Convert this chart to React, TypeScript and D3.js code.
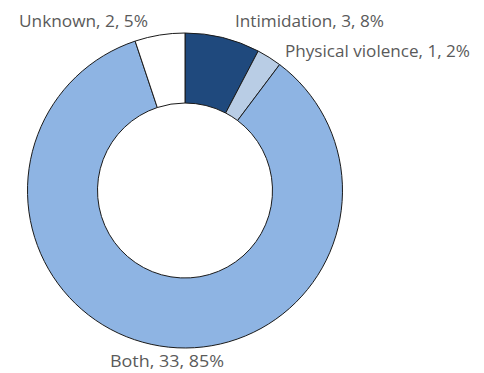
import React from "react";
import * as d3 from "d3";

const categories = ["Intimidation", "Physical violence", "Both", "Unknown"];
const values = [3, 1, 33, 2];
const percentLabels = ["8%", "2%", "85%", "5%"];
const colors = ["#1F497D", "#B9CDE5", "#8EB4E3", "#FFFFFF"];

// label anchor positions (layout only)
const labelLayout = [
  { x: 235, y: 27, w: 149 },
  { x: 285, y: 57, w: 185 },
  { x: 110, y: 367, w: 114 },
  { x: 19, y: 27, w: 129 },
];

export default function App() {
  const width = 484;
  const height = 373;
  const cx = 185;
  const cy = 190.5;
  const R = 157.5;
  const r = 87.5;

  const pie = d3.pie<number>().sort(null).value((d) => d).startAngle(0).endAngle(2 * Math.PI);
  const arcs = pie(values);
  const arcGen = d3.arc<d3.PieArcDatum<number>>().innerRadius(r).outerRadius(R);

  return (
    <svg
      width={width}
      height={height}
      style={{ position: "absolute", left: 0, top: 0, background: "#fff" }}
    >
      <g transform={`translate(${cx},${cy})`}>
        {arcs.map((a, i) => (
          <path
            key={categories[i]}
            d={arcGen(a) || ""}
            fill={colors[i]}
            stroke="#1a1a1a"
            strokeWidth={1}
          />
        ))}
      </g>
      {categories.map((c, i) => (
        <text
          key={c}
          x={labelLayout[i].x}
          y={labelLayout[i].y}
          fontFamily="'Open Sans', sans-serif"
          fontSize={16}
          fill="#5a5a5a"
          textLength={labelLayout[i].w}
          lengthAdjust="spacingAndGlyphs"
        >
          {`${c}, ${values[i]}, ${percentLabels[i]}`}
        </text>
      ))}
    </svg>
  );
}
